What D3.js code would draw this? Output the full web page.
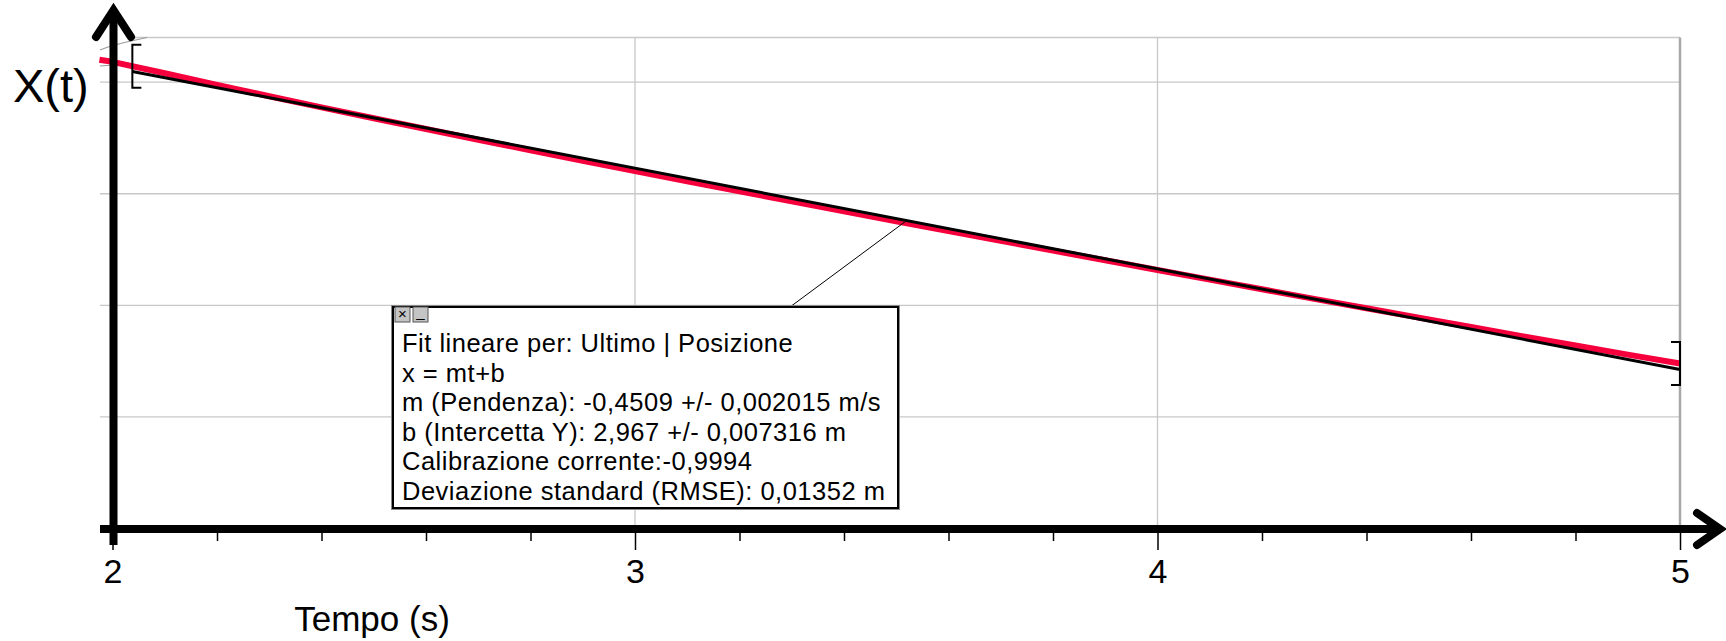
<!DOCTYPE html>
<html>
<head>
<meta charset="utf-8">
<script src="https://cdn.jsdelivr.net/npm/d3@7"></script>
<style>
  html, body { margin: 0; padding: 0; background: #fff; }
  svg { display: block; }
  text { font-family: "Liberation Sans", Arial, sans-serif; fill: #000; }
</style>
</head>
<body>
<svg id="chart" width="1726" height="641"></svg>
<script>
// Position of the cart over time (s -> m), sampled from the motion sensor run
const times = [1.975, 2.0, 2.1, 2.2, 2.3, 2.4, 2.5, 2.6, 2.7, 2.8, 2.9, 3.0, 3.1, 3.2, 3.3, 3.4,
               3.5, 3.6, 3.7, 3.8, 3.9, 4.0, 4.1, 4.2, 4.3, 4.4, 4.5, 4.6, 4.7, 4.8, 4.9, 5.0];
const positions = [2.100, 2.091, 2.040, 1.988, 1.937, 1.887, 1.838, 1.790, 1.742, 1.695, 1.648, 1.602,
                   1.556, 1.511, 1.466, 1.421, 1.377, 1.333, 1.289, 1.245, 1.202, 1.158, 1.115, 1.072,
                   1.029, 0.987, 0.945, 0.903, 0.861, 0.820, 0.779, 0.739];

// Linear fit x = m t + b and the range it was computed over
const fitSlope = -0.4509;
const fitIntercept = 2.967;
const fitRange = [2.038, 5.0];

const majorTicks = [2, 3, 4, 5];
const minorTicks = [2.2, 2.4, 2.6, 2.8, 3.2, 3.4, 3.6, 3.8, 4.2, 4.4, 4.6, 4.8];
const yGridValues = [0.5, 1.0, 1.5, 2.0, 2.2];
const verticalGrid = [3, 4];

const fitLines = [
  "Fit lineare per: Ultimo | Posizione",
  "x = mt+b",
  "m (Pendenza): -0,4509 +/- 0,002015 m/s",
  "b (Intercetta Y): 2,967 +/- 0,007316 m",
  "Calibrazione corrente:-0,9994",
  "Deviazione standard (RMSE): 0,01352 m"
];

const svg = d3.select("#chart");
const x = d3.scaleLinear().domain([2, 5]).range([112.5, 1680]);
const y = d3.scaleLinear().domain([0, 2.2]).range([528.5, 37.5]);

// grid
const grid = svg.append("g");
grid.selectAll("line.h").data(yGridValues).join("line")
  .attr("x1", d => d === 2.2 ? x(2.04) : 100).attr("x2", x(5))
  .attr("y1", d => y(d)).attr("y2", d => y(d))
  .attr("stroke", "#c8c8c8").attr("stroke-width", 1.3);
grid.selectAll("line.v").data(verticalGrid).join("line")
  .attr("x1", d => x(d)).attr("x2", d => x(d))
  .attr("y1", y(2.2)).attr("y2", y(0))
  .attr("stroke", "#c8c8c8").attr("stroke-width", 1.3);
grid.append("line")
  .attr("x1", x(5)).attr("x2", x(5)).attr("y1", y(2.2)).attr("y2", y(0))
  .attr("stroke", "#a8a8a8").attr("stroke-width", 2.5);

// grey break marks near the top of the value axis
grid.append("path")
  .attr("d", `M100,50 Q112,45 ${x(2.04)},${y(2.2) + 3} L147,${y(2.2)}`)
  .attr("fill", "none").attr("stroke", "#9a9a9a").attr("stroke-width", 1.2);
grid.append("path")
  .attr("d", "M100,66 L113,65")
  .attr("fill", "none").attr("stroke", "#9a9a9a").attr("stroke-width", 1.2);

// data series
const dataLine = d3.line().x((d, i) => x(times[i])).y(d => y(d));
svg.append("path")
  .attr("d", dataLine(positions))
  .attr("fill", "none").attr("stroke", "#f5003c").attr("stroke-width", 6)
  .attr("stroke-linejoin", "round");

// fit line
const fitY = t => fitSlope * t + fitIntercept;
svg.append("line")
  .attr("x1", x(fitRange[0])).attr("y1", y(fitY(fitRange[0])))
  .attr("x2", x(fitRange[1])).attr("y2", y(fitY(fitRange[1])))
  .attr("stroke", "#000").attr("stroke-width", 3);

// fit range brackets
const valueAt = t => d3.scaleLinear().domain(times).range(positions)(t);
[[fitRange[0], 1], [fitRange[1], -1]].forEach(([t, dir]) => {
  const cx = x(t), cy = y(valueAt(t));
  svg.append("path")
    .attr("d", `M${cx + dir * 9},${cy - 21.5} L${cx},${cy - 21.5} L${cx},${cy + 21.5} L${cx + dir * 9},${cy + 21.5}`)
    .attr("fill", "none").attr("stroke", "#000").attr("stroke-width", 2);
});

// x axis ticks
const minorAxis = d3.axisBottom(x).tickValues(minorTicks).tickSize(12).tickFormat("");
svg.append("g").attr("transform", "translate(0,529)").call(minorAxis)
  .call(g => g.select(".domain").remove())
  .call(g => g.selectAll(".tick line").attr("stroke", "#000").attr("stroke-width", 1.5));
const majorAxis = d3.axisBottom(x).tickValues(majorTicks).tickSize(21).tickPadding(9).tickFormat(d3.format("d"));
svg.append("g").attr("transform", "translate(0,529)").call(majorAxis)
  .call(g => g.select(".domain").remove())
  .call(g => g.selectAll(".tick line").attr("stroke", "#000").attr("stroke-width", 1.5))
  .call(g => g.selectAll(".tick text")
    .style("font-family", '"Liberation Sans", Arial, sans-serif')
    .style("font-size", "34px").attr("fill", "#000"));

// thick axes with arrow heads
svg.append("line").attr("x1", 113.5).attr("x2", 113.5).attr("y1", 545).attr("y2", 12)
  .attr("stroke", "#000").attr("stroke-width", 8);
svg.append("path").attr("d", "M96,37 L113.5,10 L131,37")
  .attr("fill", "none").attr("stroke", "#000").attr("stroke-width", 8)
  .attr("stroke-linecap", "round").attr("stroke-linejoin", "miter");
svg.append("line").attr("x1", 100).attr("x2", 1718).attr("y1", 529).attr("y2", 529)
  .attr("stroke", "#000").attr("stroke-width", 8);
svg.append("path").attr("d", "M1697,513 L1720,529 L1697,545")
  .attr("fill", "none").attr("stroke", "#000").attr("stroke-width", 8)
  .attr("stroke-linecap", "round").attr("stroke-linejoin", "miter");

// axis titles
svg.append("text").attr("x", 13).attr("y", 102).style("font-size", "47px").text("X(t)");
svg.append("text").attr("x", 372).attr("y", 631).attr("text-anchor", "middle")
  .style("font-size", "35px").text("Tempo (s)");

// fit annotation: leader line + box
const box = { x: 393, y: 307, w: 505, h: 201 };
svg.append("line")
  .attr("x1", 790).attr("y1", box.y).attr("x2", x(3.52)).attr("y2", y(fitY(3.52)))
  .attr("stroke", "#000").attr("stroke-width", 1);
svg.append("rect").attr("x", box.x - 1.5).attr("y", box.y - 1.5).attr("width", box.w + 3).attr("height", box.h + 3)
  .attr("fill", "none").attr("stroke", "#8a8a8a").attr("stroke-width", 1);
svg.append("rect").attr("x", box.x).attr("y", box.y).attr("width", box.w).attr("height", box.h)
  .attr("fill", "#fff").attr("stroke", "#000").attr("stroke-width", 2);

// close / minimise buttons
const buttons = svg.append("g");
[[395, "×"], [413, "_"]].forEach(([bx, glyph]) => {
  buttons.append("rect").attr("x", bx).attr("y", 307).attr("width", 15).attr("height", 15)
    .attr("fill", "#c4c4c4").attr("stroke", "#555").attr("stroke-width", 1);
  buttons.append("text").attr("x", bx + 7.5).attr("y", glyph === "×" ? 319 : 317)
    .attr("text-anchor", "middle").style("font-size", "15px").text(glyph);
});

svg.append("g").selectAll("text").data(fitLines).join("text")
  .attr("x", 402).attr("y", (d, i) => 352 + i * 29.5)
  .style("font-size", "25.5px").style("letter-spacing", "0.5px")
  .text(d => d);
</script>
</body>
</html>
